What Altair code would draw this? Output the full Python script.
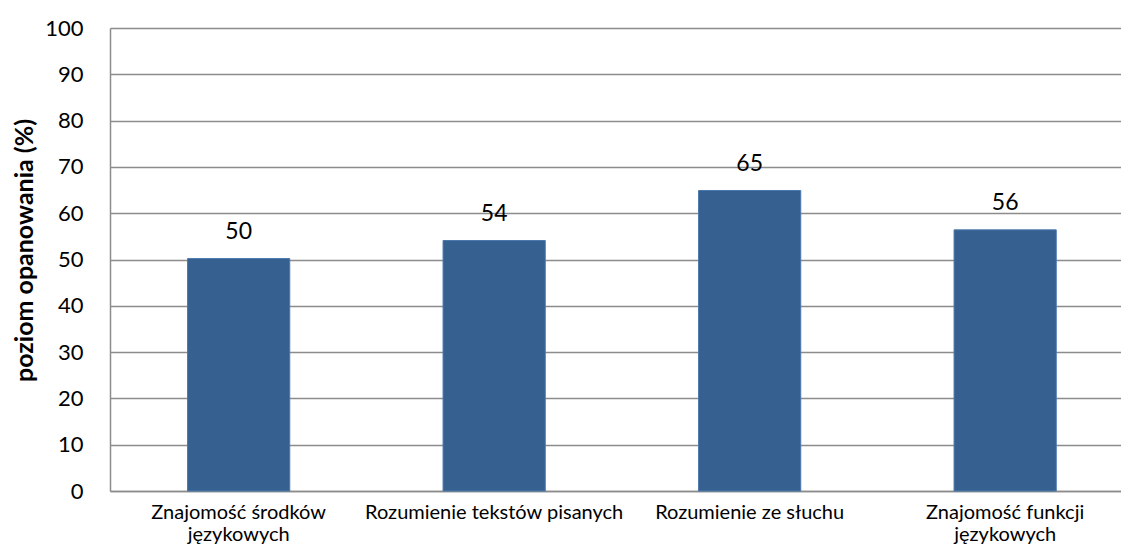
import altair as alt
import pandas as pd

categories = [
    "Znajomość środków|językowych",
    "Rozumienie tekstów pisanych",
    "Rozumienie ze słuchu",
    "Znajomość funkcji|językowych",
]
values = [50.2, 54.1, 64.9, 56.4]
y_ticks = [0, 10, 20, 30, 40, 50, 60, 70, 80, 90, 100]

df = pd.DataFrame({"kategoria": categories, "wartosc": values})

FONT = "Lato"
BAR = "#36608f"

x_enc = alt.X(
    "kategoria:N",
    sort=categories,
    title=None,
    scale=alt.Scale(paddingInner=0.6, paddingOuter=0.2785, align=0.545),
    axis=alt.Axis(
        labelAngle=0,
        labelExpr="split(datum.label, '|')",
        labelFont=FONT,
        labelFontSize=20,
        labelColor="#000000",
        labelPadding=11,
        labelLineHeight=22,
        labelBaseline="top",
        labelLimit=0,
        ticks=False,
        domainColor="#8c8c8c",
        domainWidth=1.5,
        grid=False,
    ),
)

y_enc = alt.Y(
    "wartosc:Q",
    scale=alt.Scale(domain=[0, 100], nice=False),
    axis=alt.Axis(
        values=y_ticks,
        title="poziom opanowania (%)",
        titleFont=FONT,
        titleFontSize=25,
        titleFontWeight="bold",
        titleColor="#000000",
        titleAngle=-90,
        titleX=-86,
        titleY=222,
        titleAlign="center",
        titleBaseline="middle",
        labelFont=FONT,
        labelFontSize=22,
        labelColor="#000000",
        labelPadding=27,
        ticks=False,
        domainColor="#8c8c8c",
        domainWidth=1.5,
        gridColor="#8c8c8c",
        gridWidth=1.5,
    ),
)

bars = alt.Chart(df).mark_bar(color=BAR, stroke="#4a78ad", strokeWidth=1).encode(
    x=x_enc, y=y_enc
)

labels = alt.Chart(df).mark_text(
    font=FONT, fontSize=23, color="#000000", baseline="alphabetic", dy=-20
).encode(
    x=alt.X("kategoria:N", sort=categories),
    y=alt.Y("wartosc:Q"),
    text=alt.Text("wartosc:Q", format=".0f"),
)

chart = (
    alt.layer(bars, labels)
    .properties(
        width=1011,
        height=463,
        autosize=alt.AutoSizeParams(type="none"),
        padding={"left": 102, "top": 20, "right": 0, "bottom": 56},
        background="#ffffff",
    )
    .configure_view(stroke=None)
)

chart.save("out.html", embed_options={"renderer": "svg", "actions": False})
